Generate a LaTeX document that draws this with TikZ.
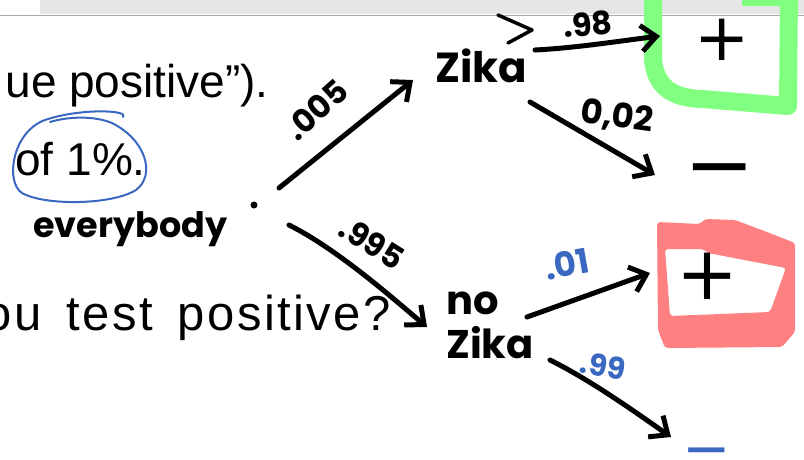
\documentclass[tikz,border=0pt]{standalone}
\usepackage{fontspec}
\setmainfont{Liberation Sans}
\newfontfamily\widesans{Liberation Sans}[LetterSpace=5,WordSpace=1.55]
\newfontfamily\hand{Poppins}
\newfontfamily\sym{DejaVu Sans}
\usetikzlibrary{arrows.meta}
\definecolor{inkblue}{RGB}{58,104,192}
\definecolor{hlgreen}{RGB}{128,255,128}
\definecolor{hlred}{RGB}{255,128,128}
\definecolor{barfill}{RGB}{230,230,230}
\definecolor{barline}{RGB}{170,170,170}
\begin{document}
\begin{tikzpicture}[x=1pt,y=-1pt,
  slide/.style={anchor=base east, inner sep=0, font=\fontsize{46}{50}\selectfont},
  ink/.style={line width=5pt, line cap=round, line join=round},
  arr/.style={ink, -{Straight Barb[length=15pt,width=26pt]}},
  hw/.style={inner sep=0, font=\hand\bfseries\fontsize{#1}{#1}\selectfont},
  hw/.default=26,
  sg/.style={inner sep=0, font=\sym\fontsize{#1}{#1}\selectfont}]
\useasboundingbox (0,0) rectangle (804,459);
\fill[white] (0,0) rectangle (804,459);
% top bar
\fill[barfill] (40,0) rectangle (804,14);
\draw[barline, line width=1.5pt] (0,15.5) -- (804,15.5);
% highlights
\draw[hlgreen, line width=18pt, line join=round]
  (653,-10) -- (653,60) .. controls (656,87) and (672,98) .. (702,99) -- (788,106) -- (789,-10);
\draw[hlgreen, line width=7pt] (742,2) -- (792,2);
\fill[hlred, even odd rule, rounded corners=3pt]
  (657,222) -- (700,224) -- (705,219) -- (735,220) -- (767,232) -- (795,243) -- (795,332) -- (782,347) -- (665,348) -- (658,330) -- cycle
  (665,249) -- (703,249) -- (708,253) -- (786,268) -- (770,312) -- (670,316) -- cycle;
% slide text
\node[slide] (l1) at (269,97) {ue positive”).};
\node[slide] (l2) at (146,175) {of 1\%.};
\node[slide, font=\widesans\fontsize{49}{52}\selectfont] (l3) at (391,330) {ou test positive?};
% blue circle
\draw[inkblue, line width=2pt, line cap=round]
  (123,117) .. controls (130,110) and (80,108) .. (45,120)
  .. controls (12,132) and (5,182) .. (22,193)
  .. controls (45,206) and (112,205) .. (136,190)
  .. controls (156,175) and (146,140) .. (112,123)
  .. controls (95,116) and (70,116) .. (50,122);
% tree
\node[hw=35, anchor=base west] (every) at (33,237) {everybody};
\node[circle, fill, inner sep=0, minimum size=7pt] (root) at (254,205) {};
\node[hw=42] (zika) at (481,66) {Zika};
\node[hw=40, align=left, font=\hand\bfseries\fontsize{40}{44}\selectfont] (nozika) at (490,325) {no\\Zika};
\node[sg=66] (ptop) at (722,40) {+};
\node[sg=84, anchor=base] (mtop) at (720,193) {−};
\node[sg=74] (pred) at (707,276) {+};
\node[sg=58, anchor=base, text=inkblue] (mbot) at (707,468) {−};
% stray mark
\draw[ink, line width=3.5pt] (498,15) -- (532,30) -- (508,43);
% arrows
\draw[arr] ([shift={(25,-17)}]root.center) -- ([shift={(-68,14)}]zika.center);
\draw[arr] ([shift={(54,-16)}]zika.center) .. controls +(40,-2) and +(-40,5) .. ([shift={(-62,-4)}]ptop.center);
\draw[arr] ([shift={(49,36)}]zika.center) -- ([shift={(-65,-18)}]mtop.base);
\draw[arr] ([shift={(35,20)}]root.center) .. controls +(50,25) and +(-30,-25) .. ([shift={(-63,2)}]nozika.center);
\draw[arr] ([shift={(37,-8)}]nozika.center) -- ([shift={(-57,-3)}]pred.center);
\draw[arr] ([shift={(60,35)}]nozika.center) .. controls +(40,20) and +(-40,-28) .. ([shift={(-36,-31)}]mbot.base);
% probability labels
\node[hw=32, rotate=42] (p005) at (316,110) {.005};
\node[hw=32, rotate=-32] (p995) at (372,243) {.995};
\node[hw=32, rotate=5] (p98) at (588,24) {.98};
\node[hw=34, rotate=-8] (p02) at (617,117) {0,02};
\node[hw=34, rotate=10, text=inkblue] (p01) at (567,264) {.01};
\node[hw=30, rotate=-10, text=inkblue] (p99) at (603,366) {.99};
\end{tikzpicture}
\end{document}
